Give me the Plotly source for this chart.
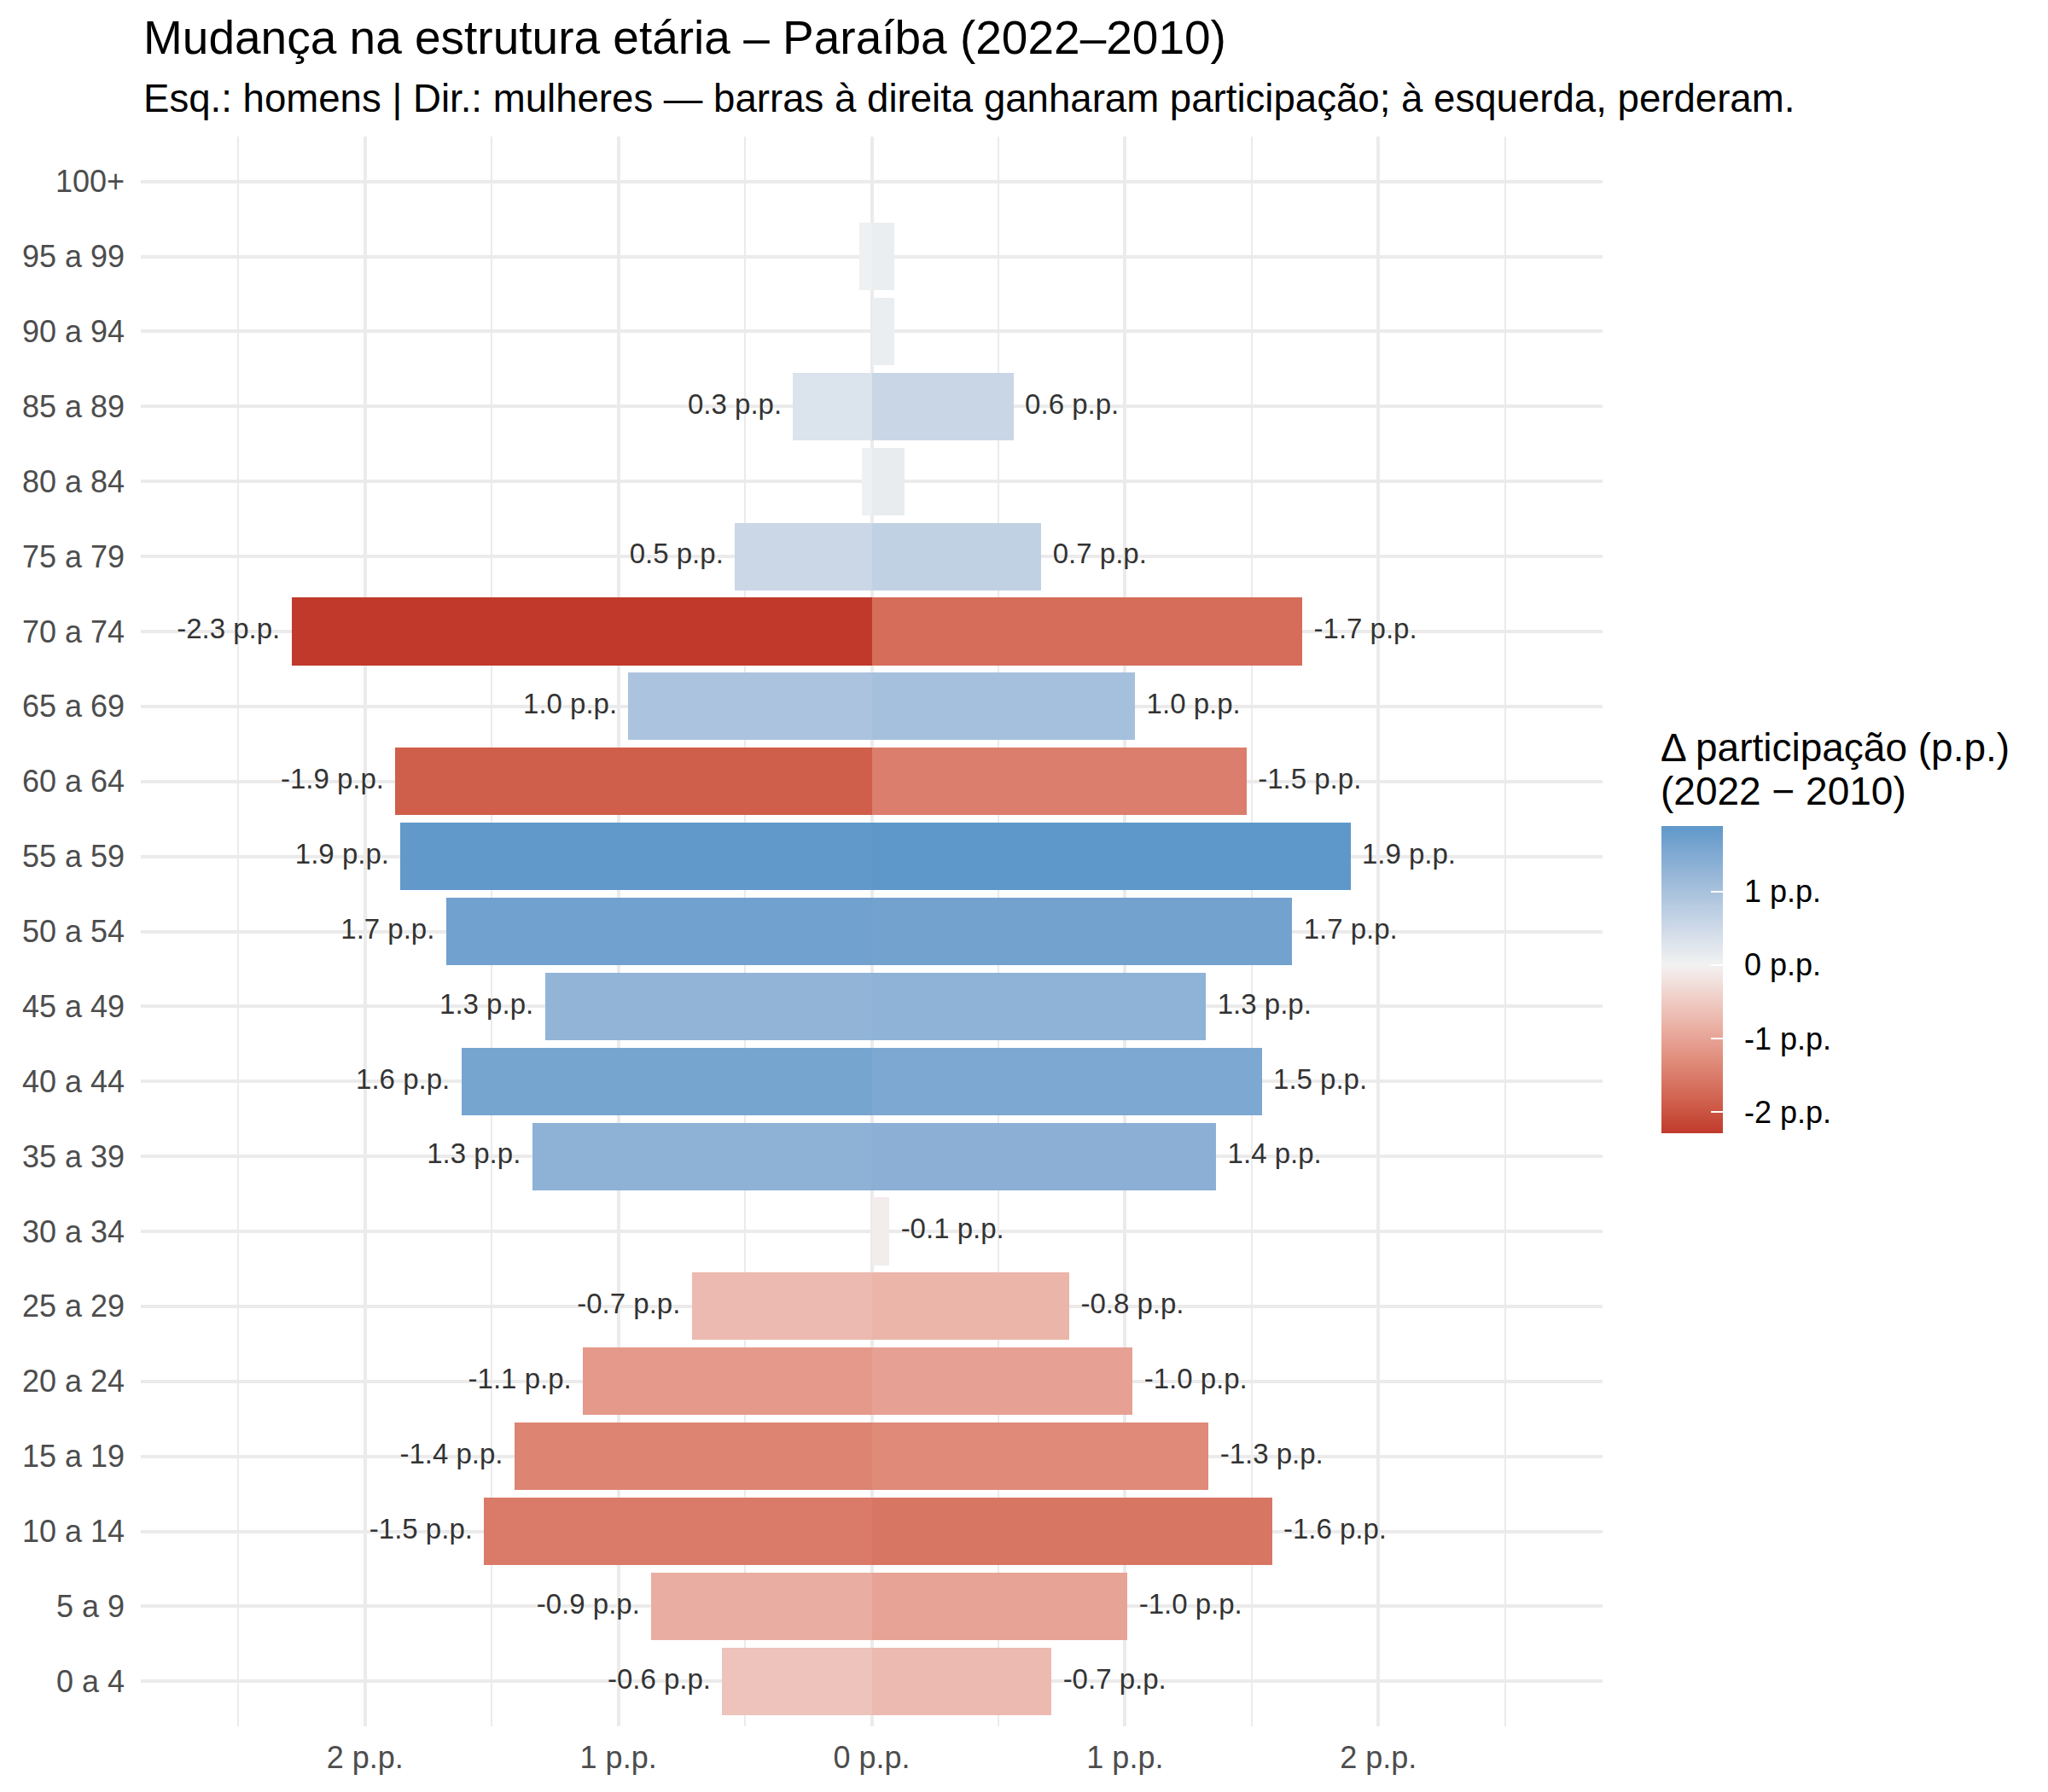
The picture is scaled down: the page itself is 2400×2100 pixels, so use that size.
import plotly.graph_objects as go

# ---------------- dados ----------------
idade = ["0 a 4", "5 a 9", "10 a 14", "15 a 19", "20 a 24", "25 a 29", "30 a 34",
         "35 a 39", "40 a 44", "45 a 49", "50 a 54", "55 a 59", "60 a 64", "65 a 69",
         "70 a 74", "75 a 79", "80 a 84", "85 a 89", "90 a 94", "95 a 99", "100+"]

# variação da participação (p.p.), 2022 - 2010
delta_homens = [-0.59, -0.87, -1.53, -1.41, -1.14, -0.71, 0.0,
                1.34, 1.62, 1.29, 1.68, 1.86, -1.88, 0.96,
                -2.29, 0.54, 0.04, 0.31, 0.0, 0.05, None]
delta_mulheres = [-0.71, -1.01, -1.58, -1.33, -1.03, -0.78, -0.07,
                  1.36, 1.54, 1.32, 1.66, 1.89, -1.48, 1.04,
                  -1.70, 0.67, 0.13, 0.56, 0.09, 0.09, None]

rotulo_homens = [True, True, True, True, True, True, False,
                 True, True, True, True, True, True, True,
                 True, True, False, True, False, False, False]
rotulo_mulheres = [True, True, True, True, True, True, True,
                   True, True, True, True, True, True, True,
                   True, True, False, True, False, False, False]

xticks_vals = [-2, -1, 0, 1, 2]
xticks_text = ["2 p.p.", "1 p.p.", "0 p.p.", "1 p.p.", "2 p.p."]
cbar_vals = [-2, -1, 0, 1]
cbar_text = ["-2 p.p.", "-1 p.p.", "0 p.p.", "1 p.p."]

# ---------------- escala de cores (gradiente divergente em Lab) ----------------
LOW, MID, HIGH = "#C0392B", "#F2F2F2", "#2E86C1"


def _lin(c):
    c = c / 255
    return c / 12.92 if c <= 0.04045 else ((c + 0.055) / 1.055) ** 2.4


def _srgb(c):
    c = max(0.0, min(1.0, c))
    v = 12.92 * c if c <= 0.0031308 else 1.055 * c ** (1 / 2.4) - 0.055
    return int(round(max(0, min(1, v)) * 255))


def hex2lab(h):
    r, g, b = (_lin(int(h[i:i + 2], 16)) for i in (1, 3, 5))
    X = (0.4124 * r + 0.3576 * g + 0.1805 * b) / 0.95047
    Y = 0.2126 * r + 0.7152 * g + 0.0722 * b
    Z = (0.0193 * r + 0.1192 * g + 0.9505 * b) / 1.08883
    f = lambda t: t ** (1 / 3) if t > (6 / 29) ** 3 else t / (3 * (6 / 29) ** 2) + 4 / 29
    return 116 * f(Y) - 16, 500 * (f(X) - f(Y)), 200 * (f(Y) - f(Z))


def lab2hex(L, a, b):
    fy = (L + 16) / 116
    fx = fy + a / 500
    fz = fy - b / 200
    finv = lambda t: t ** 3 if t > 6 / 29 else 3 * (6 / 29) ** 2 * (t - 4 / 29)
    X, Y, Z = finv(fx) * 0.95047, finv(fy), finv(fz) * 1.08883
    r = 3.2406 * X - 1.5372 * Y - 0.4986 * Z
    g = -0.9689 * X + 1.8758 * Y + 0.0415 * Z
    bb = 0.0557 * X - 0.2040 * Y + 1.0570 * Z
    return "#%02X%02X%02X" % (_srgb(r), _srgb(g), _srgb(bb))


lab_low, lab_mid, lab_high = hex2lab(LOW), hex2lab(MID), hex2lab(HIGH)

todos = [v for v in delta_homens + delta_mulheres if v is not None]
vmin, vmax = min(todos), max(todos)
extent = max(abs(vmin), abs(vmax))


def cor(v):
    t = v / extent
    end = lab_high if t >= 0 else lab_low
    t = abs(t)
    return lab2hex(*[m + (e - m) * t for m, e in zip(lab_mid, end)])


N = 60
colorscale = []
for i in range(N + 1):
    v = vmin + (vmax - vmin) * i / N
    colorscale.append([i / N, cor(v)])

# ---------------- figura ----------------
FONT = "Liberation Sans, Arial, Helvetica, sans-serif"

x_h = [None if v is None else -abs(v) for v in delta_homens]
x_m = [None if v is None else abs(v) for v in delta_mulheres]
c_h = [0 if v is None else v for v in delta_homens]
c_m = [0 if v is None else v for v in delta_mulheres]

fig = go.Figure()
fig.add_trace(go.Bar(y=idade, x=x_h, orientation="h", width=0.9,
                     marker=dict(color=c_h, coloraxis="coloraxis", line=dict(width=0)),
                     name="Homens", showlegend=False))
fig.add_trace(go.Bar(y=idade, x=x_m, orientation="h", width=0.9,
                     marker=dict(color=c_m, coloraxis="coloraxis", line=dict(width=0)),
                     name="Mulheres", showlegend=False))

NUDGE = 0.045
lx, ly, lt = [], [], []
for yv, v, show in zip(idade, delta_homens, rotulo_homens):
    if show and v is not None:
        lx.append(-abs(v) - NUDGE); ly.append(yv); lt.append(f"{v:.1f} p.p.")
fig.add_trace(go.Scatter(x=lx, y=ly, text=lt, mode="text", textposition="middle left",
                         textfont=dict(size=33, color="#333333", family=FONT),
                         showlegend=False, hoverinfo="skip"))
rx, ry, rt = [], [], []
for yv, v, show in zip(idade, delta_mulheres, rotulo_mulheres):
    if show and v is not None:
        rx.append(abs(v) + NUDGE); ry.append(yv); rt.append(f"{v:.1f} p.p.")
fig.add_trace(go.Scatter(x=rx, y=ry, text=rt, mode="text", textposition="middle right",
                         textfont=dict(size=33, color="#333333", family=FONT),
                         showlegend=False, hoverinfo="skip"))

# geometry (pixels)
W, H = 2400, 2100
L, R, T, B = 165, 522, 160, 77
pw, ph = W - L - R, H - T - B


def py(ypx):
    return (H - B - ypx) / ph


def px(xpx):
    return (xpx - L) / pw


PAD = "\u00a0\u2009"

fig.update_layout(
    width=W, height=H,
    margin=dict(l=L, r=R, t=T, b=B, autoexpand=False),
    paper_bgcolor="white", plot_bgcolor="white",
    font=dict(family=FONT, color="#000000"),
    barmode="overlay", bargap=0,
    coloraxis=dict(
        colorscale=colorscale, cmin=vmin, cmax=vmax,
        colorbar=dict(
            x=px(1947), xanchor="left", xpad=0, ypad=0,
            y=py(1148), yanchor="middle",
            thickness=72, thicknessmode="pixels",
            len=360, lenmode="pixels",
            outlinewidth=0,
            tickvals=cbar_vals, ticktext=[PAD + t for t in cbar_text],
            ticks="inside", ticklen=14, tickwidth=2, tickcolor="white",
            tickfont=dict(size=36, color="#000000", family=FONT),
        ),
    ),
    xaxis=dict(
        range=[-2.885, 2.885],
        tickvals=xticks_vals, ticktext=xticks_text,
        tickfont=dict(size=36, color="#4D4D4D", family=FONT),
        showgrid=True, gridcolor="#EBEBEB", gridwidth=4,
        zeroline=False, showline=False, ticks="",
        ticklabelstandoff=12,
        minor=dict(tickvals=[-2.5, -1.5, -0.5, 0.5, 1.5, 2.5], showgrid=True,
                   gridcolor="#EBEBEB", gridwidth=2, ticks=""),
    ),
    yaxis=dict(
        type="category", categoryorder="array", categoryarray=idade,
        range=[-0.6, len(idade) - 1 + 0.6],
        tickfont=dict(size=36, color="#4D4D4D", family=FONT),
        showgrid=True, gridcolor="#EBEBEB", gridwidth=4,
        zeroline=False, showline=False, ticks="",
        ticklabelstandoff=18,
    ),
    annotations=[
        dict(text="Mudança na estrutura etária – Paraíba (2022–2010)",
             xref="paper", yref="paper", x=px(166), y=py(44),
             xanchor="left", yanchor="middle", showarrow=False,
             font=dict(size=55, color="#000000", family=FONT)),
        dict(text="Esq.: homens | Dir.: mulheres — barras à direita ganharam participação; à esquerda, perderam.",
             xref="paper", yref="paper", x=px(166), y=py(116),
             xanchor="left", yanchor="middle", showarrow=False,
             font=dict(size=45.6, color="#000000", family=FONT)),
        dict(text="Δ participação (p.p.)",
             xref="paper", yref="paper", x=px(1944), y=py(876),
             xanchor="left", yanchor="middle", showarrow=False,
             font=dict(size=46, color="#000000", family=FONT)),
        dict(text="(2022 − 2010)",
             xref="paper", yref="paper", x=px(1944), y=py(927),
             xanchor="left", yanchor="middle", showarrow=False,
             font=dict(size=46, color="#000000", family=FONT)),
    ],
)

fig.write_html("out.html")
